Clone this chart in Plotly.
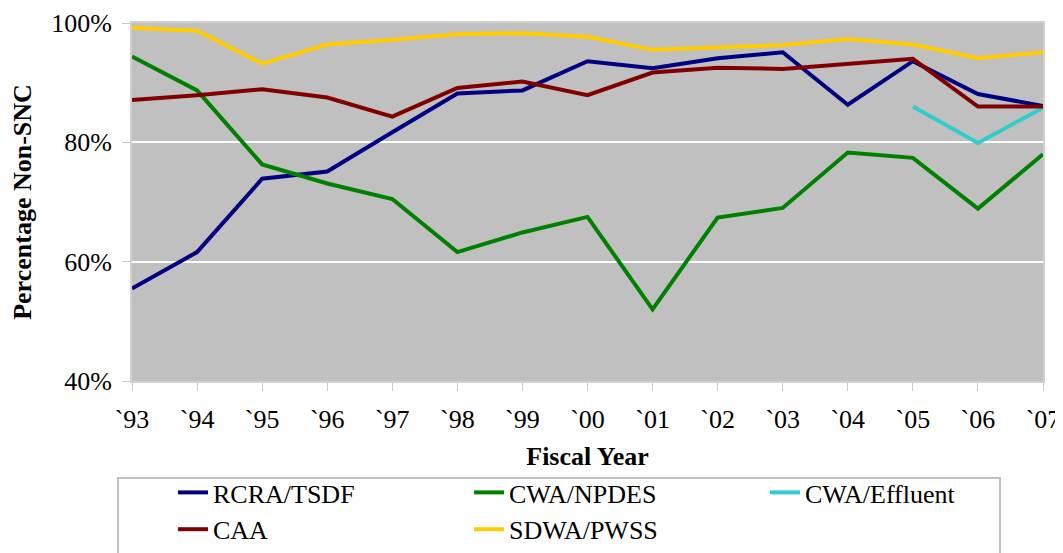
import plotly.graph_objects as go

years = ["`93", "`94", "`95", "`96", "`97", "`98", "`99", "`00", "`01", "`02", "`03", "`04", "`05", "`06", "`07"]
rcra_tsdf = [55.5, 61.6, 73.9, 75.1, 81.7, 88.2, 88.7, 93.6, 92.4, 94.1, 95.1, 86.3, 93.6, 88.1, 86.1]
cwa_npdes = [94.4, 88.7, 76.3, 73.1, 70.5, 61.6, 64.9, 67.5, 52.0, 67.4, 69.0, 78.3, 77.4, 68.9, 78.0]
cwa_effluent_years = ["`05", "`06", "`07"]
cwa_effluent = [86.0, 79.9, 85.8]
caa = [87.1, 87.9, 88.9, 87.5, 84.3, 89.1, 90.2, 87.9, 91.7, 92.5, 92.3, 93.1, 94.0, 86.0, 86.0]
sdwa_pwss = [99.2, 98.7, 93.2, 96.4, 97.2, 98.1, 98.3, 97.7, 95.5, 95.9, 96.3, 97.3, 96.4, 94.1, 95.1]

y_ticks = [40, 60, 80, 100]

FONT = "Liberation Serif, Times New Roman, serif"

fig = go.Figure()
series = [
    ("RCRA/TSDF", years, rcra_tsdf, "#000080"),
    ("CWA/NPDES", years, cwa_npdes, "#008000"),
    ("CWA/Effluent", cwa_effluent_years, cwa_effluent, "#33CCCC"),
    ("CAA", years, caa, "#800000"),
    ("SDWA/PWSS", years, sdwa_pwss, "#FFCC00"),
]
for name, xs, ys, col in series:
    fig.add_trace(go.Scatter(x=xs, y=ys, name=name, mode="lines",
                             line=dict(color=col, width=4)))

# page has an 8px body margin; the figure is sized to fit the window
OFF = 8
W, H = 1063 - OFF, 553 - OFF
# plot area in page pixels: x 132..1043, y 23..381
PL, PR, PT, PB = 132, 1043, 23, 381
L = PL - OFF
T = PT - OFF
R = W - (PR - OFF)
B = H - (PB - OFF)
pw = PR - PL
ph = PB - PT

def px_x(x):
    return (x - PL) / pw

def px_y(y):
    return (PB - y) / ph

# legend frame
fig.add_shape(type="rect", xref="paper", yref="paper",
              x0=px_x(118), x1=px_x(1000), y0=px_y(478), y1=px_y(575),
              fillcolor="white", line=dict(color="#C0C0C0", width=2), layer="below")

fig.update_layout(
    width=W, height=H,
    margin=dict(l=L, r=R, t=T, b=B, pad=0, autoexpand=False),
    paper_bgcolor="white",
    plot_bgcolor="#C0C0C0",
    font=dict(family=FONT, size=26, color="black"),
    showlegend=True,
    legend=dict(
        orientation="h",
        x=px_x(173), xanchor="left",
        y=px_y(469), yanchor="top",
        entrywidth=251, entrywidthmode="pixels",
        bgcolor="rgba(0,0,0,0)", borderwidth=0,
        font=dict(family=FONT, size=26, color="black"),
        tracegroupgap=0,
    ),
    xaxis=dict(
        type="category",
        categoryorder="array", categoryarray=years,
        range=[0, len(years) - 1],
        automargin=False,
        showgrid=False,
        showline=True, linecolor="#D0D0D0", linewidth=2, mirror=True,
        ticks="outside", ticklen=8, tickcolor="#C8C8C8", tickwidth=1,
        tickfont=dict(family=FONT, size=26, color="black"),
        ticklabelstandoff=6,
        title=dict(text="<b>Fiscal Year</b>", standoff=14,
                   font=dict(family=FONT, size=26, color="black")),
        zeroline=False,
    ),
    yaxis=dict(
        range=[40, 100],
        automargin=False,
        tickvals=y_ticks, ticktext=[f"{v}%" for v in y_ticks],
        showgrid=True, gridcolor="white", gridwidth=2,
        showline=True, linecolor="#D0D0D0", linewidth=2, mirror=True,
        ticks="outside", ticklen=8, tickcolor="#C8C8C8", tickwidth=1,
        tickfont=dict(family=FONT, size=26, color="black"),
        ticklabelstandoff=5,
        title=dict(text="<b>Percentage Non-SNC</b>", standoff=14,
                   font=dict(family=FONT, size=26, color="black")),
        zeroline=False,
    ),
)

fig.write_html("out.html")
